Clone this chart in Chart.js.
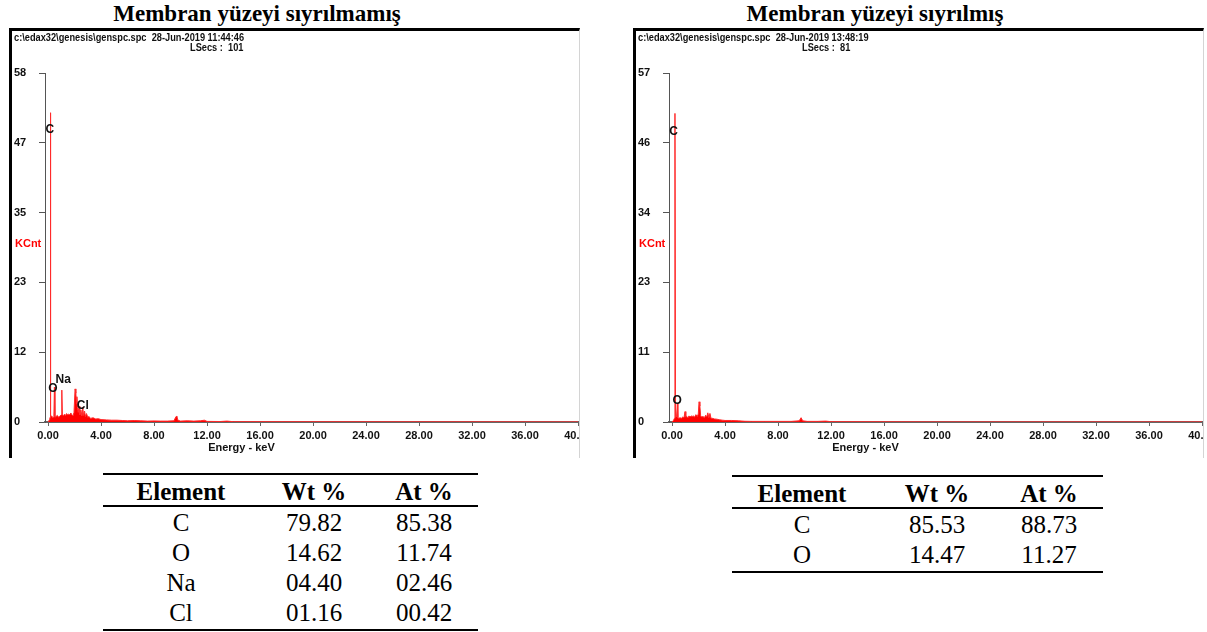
<!DOCTYPE html>
<html>
<head>
<meta charset="utf-8">
<script src="https://cdn.jsdelivr.net/npm/chart.js@4.4.1/dist/chart.umd.min.js"></script>
<style>
html,body{margin:0;padding:0;background:#fff;}
body{width:1207px;height:632px;position:relative;overflow:hidden;}
.title{position:absolute;top:2px;width:400px;font:bold 23px/23px "Liberation Serif","Times New Roman",serif;color:#000;text-align:center;white-space:nowrap;}
.panel{position:absolute;top:28px;width:567px;height:427px;border-left:3px solid #000;border-top:3px solid #000;border-right:1px solid #d4d4d4;overflow:hidden;background:#fff;}
.panel canvas{position:absolute;left:2px;top:0;}
.hdr{position:absolute;font:bold 11px/11px "Liberation Sans",Arial,sans-serif;color:#111;white-space:pre;z-index:2;transform:scaleX(0.84);transform-origin:0 0;}
.rule{position:absolute;height:2px;background:#000;}
.cell{position:absolute;width:160px;height:30px;font:25px/30px "Liberation Serif","Times New Roman",serif;color:#000;text-align:center;white-space:nowrap;}
.cell.h{font-weight:bold;}
</style>
</head>
<body>
<div class="title" style="left:57px;">Membran yüzeyi sıyrılmamış</div>
<div class="title" style="left:675px;">Membran yüzeyi sıyrılmış</div>

<div class="panel" style="left:9px;"><canvas id="cLeft" width="610" height="427"></canvas></div>
<div class="panel" style="left:633px;"><canvas id="cRight" width="610" height="427"></canvas></div>

<div class="hdr" style="left:14px;top:32px;">c:\edax32\genesis\genspc.spc  28-Jun-2019 11:44:46</div>
<div class="hdr" style="left:190px;top:42px;">LSecs :  101</div>
<div class="hdr" style="left:638px;top:32px;">c:\edax32\genesis\genspc.spc  28-Jun-2019 13:48:19</div>
<div class="hdr" style="left:802px;top:42px;">LSecs :  81</div>

<div id="tables"></div>

<script>
// ---------- data ----------
const xTickValues = [0, 4, 8, 12, 16, 20, 24, 28, 32, 36, 40];

const leftYTicks  = [0, 11.6, 23.2, 34.8, 46.4, 58];
const leftYLabels = ['0', '12', '23', '35', '47', '58'];
const rightYTicks  = [0, 11.4, 22.8, 34.2, 45.6, 57];
const rightYLabels = ['0', '11', '23', '34', '46', '57'];

// Spectrum: membrane surface not stripped (keV, KCnt)
const leftEnergy = [0.00,0.12,0.16,0.18,0.20,0.28,0.36,0.44,0.48,0.52,0.60,0.70,0.80,0.90,1.00,1.04,1.08,1.16,1.24,1.32,1.40,1.48,1.56,1.64,1.72,1.80,1.88,1.96,2.04,2.10,2.14,2.18,2.22,2.28,2.34,2.40,2.48,2.56,2.62,2.68,2.76,2.82,2.90,3.00,3.10,3.20,3.40,3.60,3.80,4.00,4.40,4.80,5.20,5.60,6.00,6.50,7.00,7.50,8.00,8.50,9.00,9.50,9.66,9.72,9.80,10.00,10.50,11.00,11.50,11.80,12.00,13.00,13.50,14.00,20.00,40.00];
const leftCounts = [0,0.4,0.8,51.4,0.9,1.0,0.7,0.9,5.8,0.8,0.9,1.1,0.8,1.0,1.2,5.3,1.3,1.0,1.3,1.1,1.4,1.2,1.3,1.2,1.5,1.2,1.0,1.6,5.5,4.8,3.0,4.2,2.4,1.6,2.6,1.2,2.0,1.0,2.5,1.1,1.8,0.9,1.4,0.8,0.9,0.6,0.7,0.5,0.55,0.4,0.35,0.3,0.3,0.25,0.2,0.25,0.2,0.15,0.18,0.15,0.15,0.2,0.9,1.0,0.3,0.15,0.2,0.15,0.2,0.3,0.1,0.08,0.15,0.05,0.03,0.02];

// Spectrum: membrane surface stripped (keV, KCnt)
const rightEnergy = [0.00,0.12,0.18,0.22,0.26,0.34,0.40,0.44,0.52,0.60,0.70,0.80,0.90,0.98,1.04,1.12,1.20,1.28,1.36,1.44,1.52,1.60,1.70,1.80,1.90,1.98,2.04,2.10,2.16,2.24,2.34,2.44,2.54,2.62,2.70,2.78,2.86,2.94,3.04,3.20,3.40,3.60,3.80,4.00,4.50,5.00,5.50,6.00,7.00,8.00,9.00,9.60,9.74,9.86,10.20,11.00,11.60,12.00,20.00,40.00];
const rightCounts = [0,0.3,0.6,50.4,0.8,0.9,3.0,0.7,0.6,0.7,0.6,0.8,0.7,1.7,0.8,0.9,0.7,1.0,0.8,1.0,0.9,1.0,0.8,1.2,0.9,1.3,3.3,2.6,1.0,0.8,0.9,0.7,1.1,0.8,1.5,0.7,1.4,0.6,0.6,0.5,0.45,0.35,0.3,0.25,0.25,0.2,0.12,0.1,0.1,0.1,0.1,0.2,0.7,0.2,0.1,0.1,0.15,0.05,0.02,0.02];

// Peak labels (element, keV, KCnt)
const leftPeakNames  = ['C', 'O', 'Na', 'Cl'];
const leftPeakKeV    = [0.13, 0.36, 1.15, 2.62];
const leftPeakKCnt   = [48.5, 5.5, 7.0, 2.65];
const rightPeakNames = ['C', 'O'];
const rightPeakKeV   = [0.11, 0.38];
const rightPeakKCnt  = [47.4, 3.4];

// Composition tables
const tableHeader   = ['Element', 'Wt %', 'At %'];
const leftElements  = ['C', 'O', 'Na', 'Cl'];
const leftWt        = ['79.82', '14.62', '04.40', '01.16'];
const leftAt        = ['85.38', '11.74', '02.46', '00.42'];
const rightElements = ['C', 'O'];
const rightWt       = ['85.53', '14.47'];
const rightAt       = ['88.73', '11.27'];

// ---------- drawing ----------
const SANS = '"Liberation Sans", Arial, sans-serif';

const annotPlugin = {
  id: 'annot',
  afterDatasetsDraw(chart, args, opts) {
    const ctx = chart.ctx, xs = chart.scales.x, ys = chart.scales.y, ca = chart.chartArea;
    ctx.save();
    ctx.textAlign = 'center';
    ctx.textBaseline = 'middle';
    ctx.fillStyle = '#111';
    ctx.font = 'bold 12px ' + SANS;
    opts.names.forEach((n, i) => {
      ctx.fillText(n, xs.getPixelForValue(opts.kev[i]), ys.getPixelForValue(opts.kcnt[i]));
    });
    ctx.font = 'bold 11px ' + SANS;
    ctx.fillText('Energy - keV', xs.getPixelForValue(14.6), ca.bottom + 26);
    ctx.fillStyle = '#ff0000';
    ctx.textAlign = 'left';
    ctx.fillText('KCnt', 1, ca.top + 171);
    ctx.restore();
  }
};

function makeSpectrum(id, energy, counts, yMax, yTicks, yLabels, names, kev, kcnt) {
  const data = energy.map((e, i) => ({ x: e, y: counts[i] }));
  return new Chart(document.getElementById(id), {
    type: 'line',
    data: { datasets: [{
      data: data,
      fill: 'origin',
      backgroundColor: '#ff0000',
      borderColor: '#ff2a2a',
      borderWidth: 1,
      pointRadius: 0,
      tension: 0
    }]},
    plugins: [annotPlugin],
    options: {
      responsive: false,
      animation: false,
      devicePixelRatio: 1,
      layout: { padding: { top: 42, left: 0, right: 46, bottom: 0 } },
      plugins: {
        legend: { display: false },
        tooltip: { enabled: false },
        annot: { names: names, kev: kev, kcnt: kcnt }
      },
      scales: {
        x: {
          type: 'linear', min: -0.23, max: 40,
          afterBuildTicks: s => { s.ticks = xTickValues.map(v => ({ value: v })); },
          afterFit: s => { s.height = 36; },
          ticks: {
            callback: v => Number(v).toFixed(2),
            font: { family: SANS, weight: 'bold', size: 11 },
            color: '#111', padding: 3, maxRotation: 0, autoSkip: false
          },
          grid: { display: true, drawOnChartArea: false, drawTicks: true, tickLength: 4, color: '#666', lineWidth: 1 },
          border: { display: true, color: '#666', width: 2 }
        },
        y: {
          min: 0, max: yMax,
          afterBuildTicks: s => { s.ticks = yTicks.map(v => ({ value: v })); },
          afterFit: s => { s.width = 31; },
          ticks: {
            callback: (v, i) => yLabels[i],
            crossAlign: 'far',
            font: { family: SANS, weight: 'bold', size: 11 },
            color: '#111', padding: 4, autoSkip: false
          },
          grid: { display: true, drawOnChartArea: false, drawTicks: true, tickLength: 6, color: '#555', lineWidth: 1 },
          border: { display: true, color: '#555', width: 1 }
        }
      }
    }
  });
}

makeSpectrum('cLeft', leftEnergy, leftCounts, 58, leftYTicks, leftYLabels, leftPeakNames, leftPeakKeV, leftPeakKCnt);
makeSpectrum('cRight', rightEnergy, rightCounts, 57, rightYTicks, rightYLabels, rightPeakNames, rightPeakKeV, rightPeakKCnt);

// ---------- tables ----------
function buildTable(x0, x1, y0, centers, cols) {
  const host = document.getElementById('tables');
  const addRule = (y) => {
    const d = document.createElement('div');
    d.className = 'rule';
    d.style.left = x0 + 'px'; d.style.width = (x1 - x0) + 'px'; d.style.top = (y - 1) + 'px';
    host.appendChild(d);
  };
  const addCell = (text, cx, cy, head) => {
    const d = document.createElement('div');
    d.className = 'cell' + (head ? ' h' : '');
    d.textContent = text;
    d.style.left = (cx - 80) + 'px'; d.style.top = (cy - 15) + 'px';
    host.appendChild(d);
  };
  addRule(y0);
  tableHeader.forEach((h, j) => addCell(h, centers[j], y0 + 18, true));
  addRule(y0 + 32);
  const n = cols[0].length;
  for (let i = 0; i < n; i++) {
    cols.forEach((c, j) => addCell(c[i], centers[j], y0 + 49 + 30 * i, false));
  }
  addRule(y0 + 49 + 30 * (n - 1) + 17);
}
buildTable(103, 478, 474, [181, 314, 424], [leftElements, leftWt, leftAt]);
buildTable(732, 1103, 476, [802, 937, 1049], [rightElements, rightWt, rightAt]);
</script>
</body>
</html>
